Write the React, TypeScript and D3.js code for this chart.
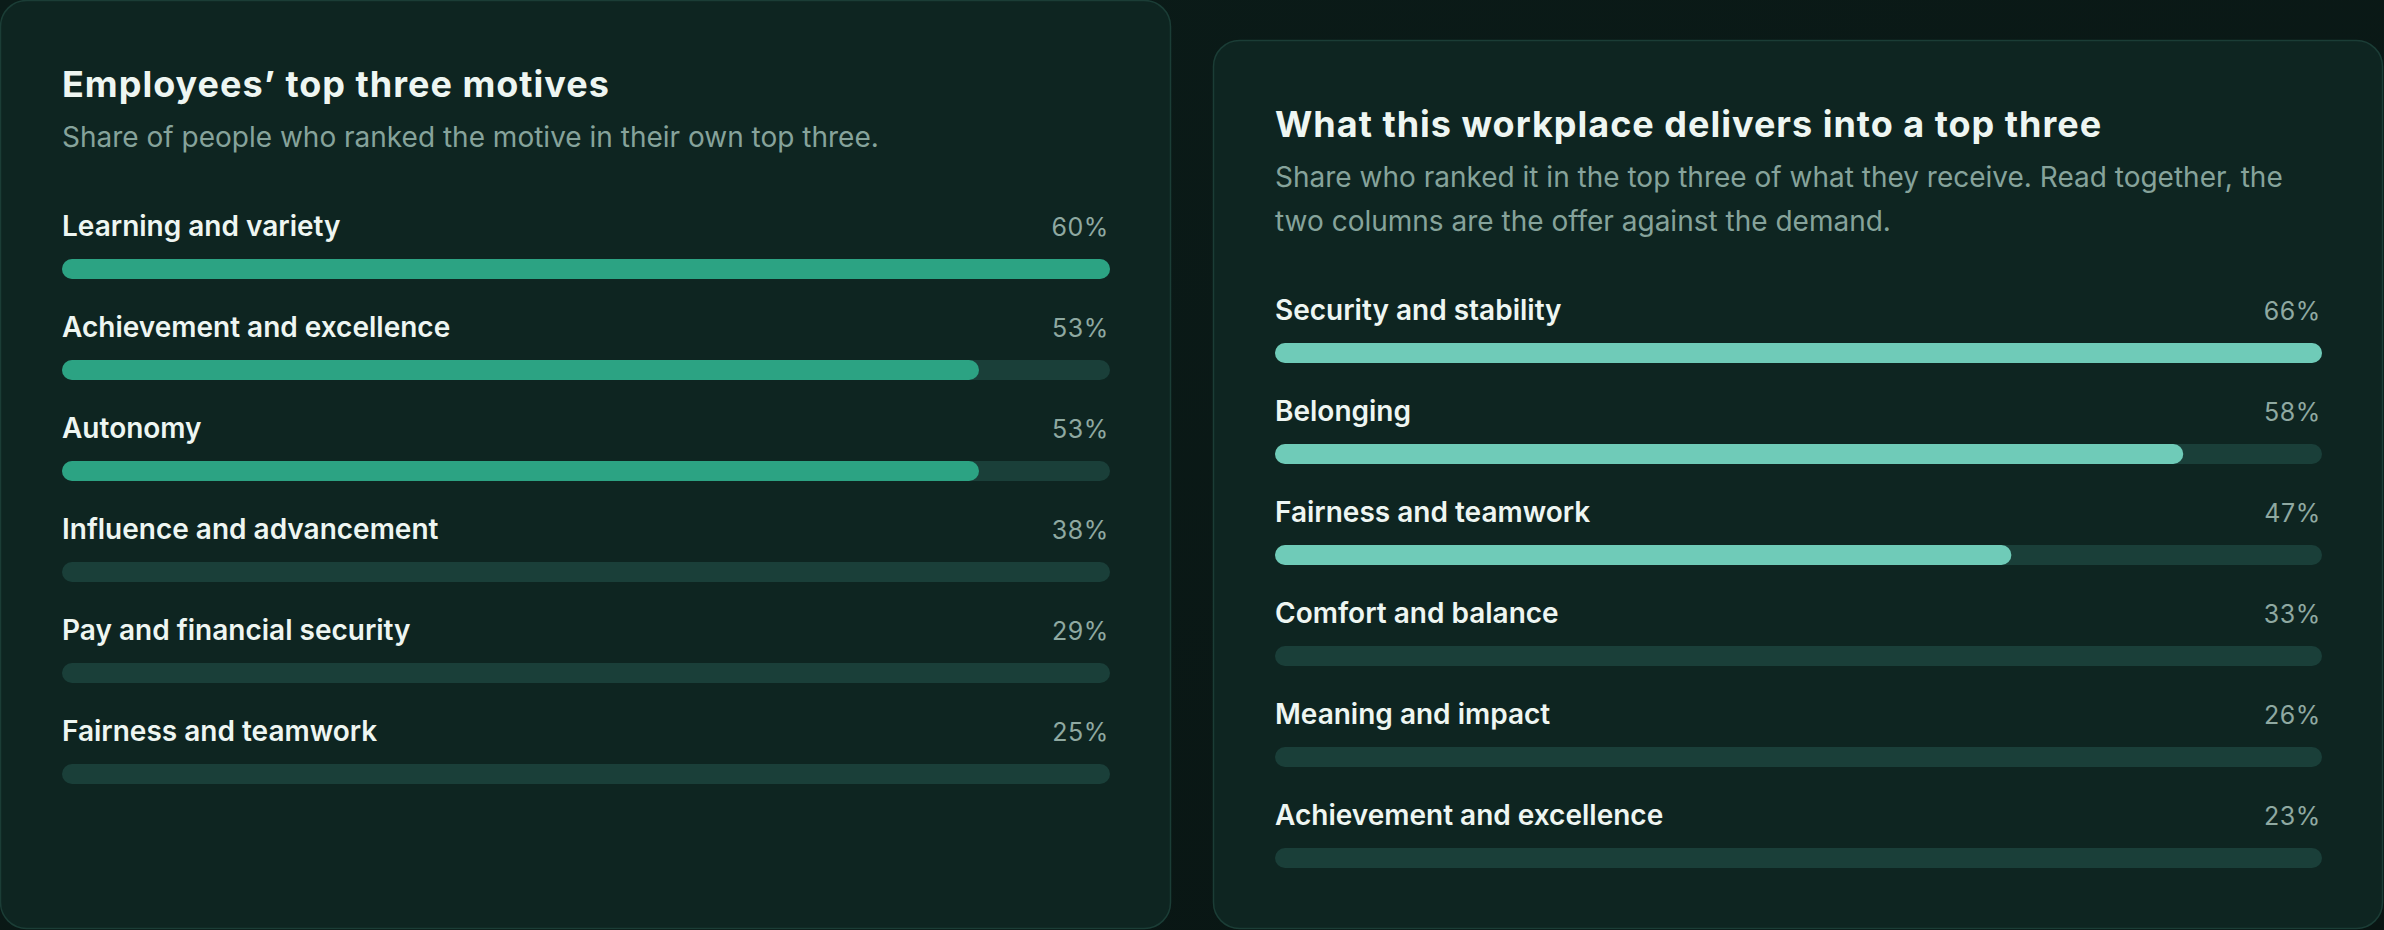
import React from "react";
import * as d3 from "d3";

// ---- Data ----
const leftTitle = "Employees\u2019 top three motives";
const leftSubtitle = ["Share of people who ranked the motive in their own top three."];
const leftCategories = [
  "Learning and variety",
  "Achievement and excellence",
  "Autonomy",
  "Influence and advancement",
  "Pay and financial security",
  "Fairness and teamwork",
];
const leftValues = [60.0, 52.5, 52.5, 38, 29, 25];

const rightTitle = "What this workplace delivers into a top three";
const rightSubtitle = [
  "Share who ranked it in the top three of what they receive. Read together, the",
  "two columns are the offer against the demand.",
];
const rightCategories = [
  "Security and stability",
  "Belonging",
  "Fairness and teamwork",
  "Comfort and balance",
  "Meaning and impact",
  "Achievement and excellence",
];
const rightValues = [66.4, 57.6, 46.7, 33, 26, 23];

const highlightCount = 3;

// ---- Styles ----
const W = 2384;
const H = 930;
const CARD = "#0e2521";
const BORDER = "#1b3d36";
const TRACK = "#1a3f39";
const TITLE = "#eef6f2";
const SUB = "#86a39b";
const VAL = "#8fa9a1";
const FONT = "Inter, 'Noto Sans', sans-serif";

type PanelProps = {
  x: number;
  y: number;
  w: number;
  h: number;
  title: string;
  subtitle: string[];
  categories: string[];
  values: number[];
  fill: string;
};

function Panel({ x, y, w, h, title, subtitle, categories, values, fill }: PanelProps) {
  const pad = 62;
  const trackX0 = pad;
  const trackX1 = w - 61;
  const titleBase = 97;
  const subBase = 147;
  const subLine = 44;
  const firstLabel = subBase + (subtitle.length - 1) * subLine + 89;
  const rowPitch = 101;
  const barH = 20;

  const xScale = d3
    .scaleLinear()
    .domain([0, d3.max(values) as number])
    .range([trackX0, trackX1]);

  const yScale = d3
    .scaleLinear()
    .domain([0, 1])
    .range([firstLabel, firstLabel + rowPitch]);

  return (
    <g transform={`translate(${x},${y})`}>
      <rect
        x={0.5}
        y={0.5}
        width={w - 1}
        height={h - 1}
        rx={26}
        ry={26}
        fill={CARD}
        stroke={BORDER}
        strokeWidth={1.5}
      />
      <text
        x={pad}
        y={titleBase}
        fill={TITLE}
        fontFamily={FONT}
        fontWeight={700}
        fontSize={36}
        letterSpacing={1.0}
      >
        {title}
      </text>
      {subtitle.map((line, i) => (
        <text
          key={i}
          x={pad}
          y={subBase + i * subLine}
          fill={SUB}
          fontFamily={FONT}
          fontWeight={400}
          fontSize={28}
        >
          {line}
        </text>
      ))}
      {categories.map((cat, i) => {
        const base = yScale(i);
        const barTop = base + 23;
        const v = values[i];
        const filled = i < highlightCount;
        return (
          <g key={cat}>
            <text
              x={pad}
              y={base}
              fill={TITLE}
              fontFamily={FONT}
              fontWeight={600}
              fontSize={28}
            >
              {cat}
            </text>
            <text
              x={trackX1 - 1}
              y={base}
              textAnchor="end"
              fill={VAL}
              fontFamily={FONT}
              fontWeight={400}
              fontSize={25}
              letterSpacing={0.6}
            >
              {`${Math.round(v)}%`}
            </text>
            <rect
              x={trackX0}
              y={barTop}
              width={trackX1 - trackX0}
              height={barH}
              rx={barH / 2}
              fill={TRACK}
            />
            {filled && (
              <rect
                x={trackX0}
                y={barTop}
                width={xScale(v) - trackX0}
                height={barH}
                rx={barH / 2}
                fill={fill}
              />
            )}
          </g>
        );
      })}
    </g>
  );
}

export default function App() {
  return (
    <svg
      width={W}
      height={H}
      style={{ position: "fixed", left: 0, top: 0, display: "block" }}
    >
      <defs>
        <linearGradient id="bgGrad" x1="0" y1="0" x2="1" y2="1">
          <stop offset="0" stopColor="#0b1c19" />
          <stop offset="1" stopColor="#091513" />
        </linearGradient>
      </defs>
      <rect x={0} y={0} width={W} height={H} fill="url(#bgGrad)" />
      <Panel
        x={0}
        y={0}
        w={1171}
        h={929}
        title={leftTitle}
        subtitle={leftSubtitle}
        categories={leftCategories}
        values={leftValues}
        fill="#2ca383"
      />
      <Panel
        x={1213}
        y={40}
        w={1170}
        h={889}
        title={rightTitle}
        subtitle={rightSubtitle}
        categories={rightCategories}
        values={rightValues}
        fill="#6fcbb8"
      />
    </svg>
  );
}
